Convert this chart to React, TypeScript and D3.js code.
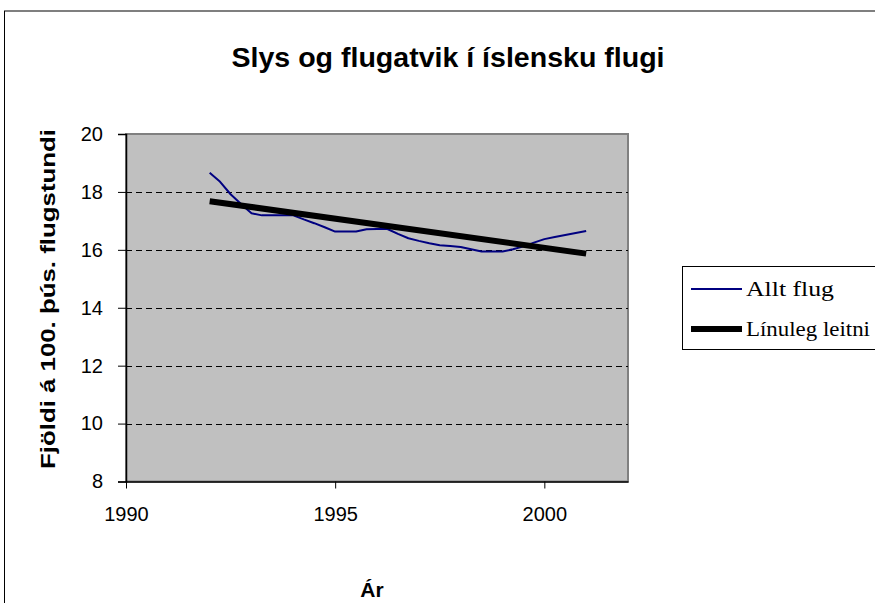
import React, { useEffect, useRef } from 'react';
import * as d3 from 'd3';

// Quarterly values (accidents per 100 thousand flight hours)
const years = [
  1992, 1992.25, 1992.5, 1992.75, 1993, 1993.25, 1993.5, 1993.75,
  1994, 1994.25, 1994.5, 1994.75, 1995, 1995.25, 1995.5, 1995.75,
  1996, 1996.25, 1996.5, 1996.75, 1997, 1997.25, 1997.5, 1997.75,
  1998, 1998.25, 1998.5, 1998.75, 1999, 1999.25, 1999.5, 1999.75,
  2000, 2000.25, 2000.5, 2000.75, 2001,
];
const alltFlug = [
  18.66, 18.35, 17.92, 17.58, 17.26, 17.19, 17.19, 17.19,
  17.19, 17.05, 16.92, 16.78, 16.63, 16.63, 16.63, 16.71,
  16.72, 16.72, 16.55, 16.4, 16.31, 16.23, 16.16, 16.13,
  16.1, 16.02, 15.94, 15.94, 15.94, 16.02, 16.12, 16.25,
  16.37, 16.44, 16.51, 16.58, 16.65,
];
const trendYears = [1992, 2001];
const trendValues = [17.68, 15.87];

const xTicks = [1990, 1995, 2000];
const yTicks = [8, 10, 12, 14, 16, 18, 20];
const gridValues = [10, 12, 14, 16, 18];

const title = 'Slys og flugatvik í íslensku flugi';
const xTitle = 'Ár';
const yTitle = 'Fjöldi á 100. þús. flugstundi';
const legendLabels = ['Allt flug', 'Línuleg leitni'];

const App = () => {
  const svgRef = useRef<SVGSVGElement>(null);

  useEffect(() => {
    if (!svgRef.current) return;
    const svg = d3.select(svgRef.current);
    svg.selectAll('*').remove();

    const width = 875;
    const height = 603;
    const plot = { left: 126, right: 628, top: 134, bottom: 481.5 };
    const sans = 'Arial, "Liberation Sans", sans-serif';
    const serif = '"Times New Roman", "Liberation Serif", serif';

    svg.append('rect')
      .attr('width', width).attr('height', height).attr('fill', '#ffffff');

    // outer chart border
    svg.append('rect')
      .attr('x', 4.5).attr('y', 11)
      .attr('width', width + 10).attr('height', height + 10)
      .attr('fill', 'none').attr('stroke', '#000').attr('stroke-width', 1);

    const x = d3.scaleLinear().domain([1990, 2002]).range([plot.left, plot.right]);
    const y = d3.scaleLinear().domain([8, 20]).range([plot.bottom, plot.top]);

    // plot area
    svg.append('rect')
      .attr('x', plot.left).attr('y', plot.top)
      .attr('width', plot.right - plot.left).attr('height', plot.bottom - plot.top)
      .attr('fill', '#c0c0c0').attr('stroke', '#808080').attr('stroke-width', 2);

    // dashed gridlines
    svg.append('g')
      .selectAll('line')
      .data(gridValues)
      .join('line')
      .attr('x1', plot.left).attr('x2', plot.right)
      .attr('y1', d => Math.round(y(d)) + 0.5).attr('y2', d => Math.round(y(d)) + 0.5)
      .attr('stroke', '#000').attr('stroke-width', 1).attr('stroke-dasharray', '6,4');

    // Y axis
    const yAxis = svg.append('g')
      .attr('transform', `translate(${plot.left},0)`)
      .call(d3.axisLeft(y).tickValues(yTicks).tickSize(8).tickPadding(15).tickFormat(d3.format('d')));
    yAxis.select('.domain').attr('stroke', '#000').attr('stroke-width', 1.5);
    yAxis.selectAll('.tick line').attr('stroke', '#000');
    yAxis.selectAll('text').attr('font-family', sans).attr('font-size', 20).attr('fill', '#000');

    // X axis
    const xAxis = svg.append('g')
      .attr('transform', `translate(0,${plot.bottom})`)
      .call(d3.axisBottom(x).tickValues(xTicks).tickSize(7).tickSizeOuter(0).tickPadding(18).tickFormat(d3.format('d')));
    xAxis.select('.domain').attr('stroke', '#000').attr('stroke-width', 1.5);
    xAxis.selectAll('.tick line').attr('stroke', '#000');
    xAxis.selectAll('text').attr('font-family', sans).attr('font-size', 20).attr('fill', '#000');

    // data line
    const line = d3.line<number>()
      .x((_, i) => x(years[i]))
      .y(d => y(d));
    svg.append('path')
      .attr('d', line(alltFlug))
      .attr('fill', 'none').attr('stroke', '#000080').attr('stroke-width', 2)
      .attr('stroke-linejoin', 'round');

    // linear trend
    const trendLine = d3.line<number>()
      .x((_, i) => x(trendYears[i]))
      .y(d => y(d));
    svg.append('path')
      .attr('d', trendLine(trendValues))
      .attr('fill', 'none').attr('stroke', '#000').attr('stroke-width', 6);

    // titles
    svg.append('text')
      .attr('x', 448).attr('y', 67)
      .attr('text-anchor', 'middle')
      .attr('font-family', sans).attr('font-weight', 'bold').attr('font-size', 28)
      .attr('textLength', 433).attr('lengthAdjust', 'spacingAndGlyphs')
      .text(title);

    svg.append('text')
      .attr('x', 372).attr('y', 597)
      .attr('text-anchor', 'middle')
      .attr('font-family', sans).attr('font-weight', 'bold').attr('font-size', 21)
      .text(xTitle);

    svg.append('text')
      .attr('transform', 'translate(55,299) rotate(-90)')
      .attr('text-anchor', 'middle')
      .attr('font-family', sans).attr('font-weight', 'bold').attr('font-size', 21)
      .attr('textLength', 340).attr('lengthAdjust', 'spacingAndGlyphs')
      .text(yTitle);

    // legend
    const legend = svg.append('g').attr('transform', 'translate(682,266)');
    legend.append('rect')
      .attr('x', 0.5).attr('y', 0.5).attr('width', 220).attr('height', 83)
      .attr('fill', '#fff').attr('stroke', '#000').attr('stroke-width', 1);
    const items = [
      { label: legendLabels[0], color: '#000080', w: 2, len: 88 },
      { label: legendLabels[1], color: '#000', w: 6, len: 124 },
    ];
    items.forEach((it, i) => {
      const ly = 23 + i * 40;
      legend.append('line')
        .attr('x1', 9).attr('x2', 60).attr('y1', ly).attr('y2', ly)
        .attr('stroke', it.color).attr('stroke-width', it.w);
      legend.append('text')
        .attr('x', 64).attr('y', ly + 7)
        .attr('font-family', serif).attr('font-size', 22).attr('fill', '#000')
        .attr('textLength', it.len).attr('lengthAdjust', 'spacingAndGlyphs')
        .text(it.label);
    });
  }, []);

  return (
    <div style={{ position: 'absolute', left: 0, top: 0 }}>
      <svg ref={svgRef} width={875} height={603} style={{ display: 'block' }}></svg>
    </div>
  );
};

export default App;
